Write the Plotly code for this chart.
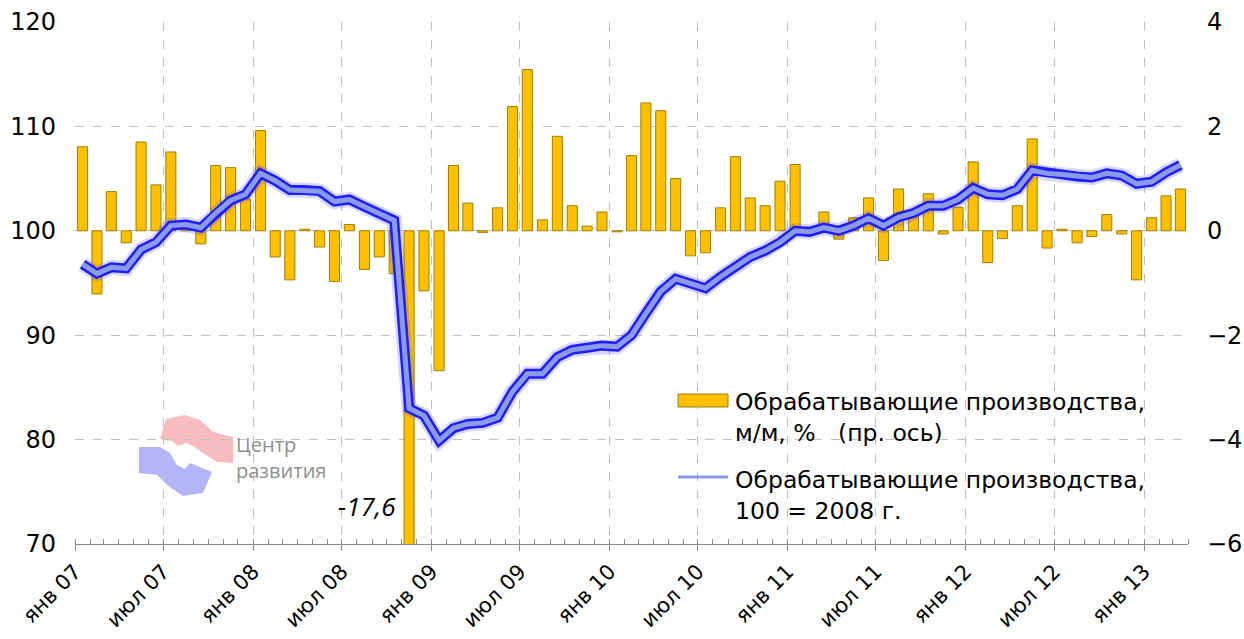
import pandas as pd
import plotly.graph_objects as go

# Monthly observations, January 2007 - March 2013
months = pd.date_range("2007-01-01", periods=75, freq="MS")

# Manufacturing, month-on-month change, % (right axis)
mom_change = [
    1.61, -1.21, 0.75, -0.23, 1.70, 0.88, 1.51, 0.05, -0.25, 1.25, 1.21, 0.61,
    1.92, -0.50, -0.94, 0.03, -0.31, -0.97, 0.12, -0.74, -0.50, -0.82, -17.6, -1.15,
    -2.68, 1.25, 0.53, -0.03, 0.44, 2.38, 3.09, 0.21, 1.81, 0.48, 0.09, 0.36,
    -0.02, 1.44, 2.45, 2.30, 1.00, -0.48, -0.42, 0.44, 1.42, 0.63, 0.48, 0.95,
    1.27, 0.05, 0.36, -0.16, 0.25, 0.63, -0.57, 0.80, 0.33, 0.71, -0.06, 0.45,
    1.32, -0.61, -0.15, 0.48, 1.76, -0.33, 0.03, -0.23, -0.11, 0.31, -0.06, -0.94,
    0.25, 0.67, 0.80,
]

# Manufacturing index, 2008 average = 100 (left axis)
index_2008 = [
    96.8, 95.9, 96.5, 96.4, 98.2, 98.9, 100.5, 100.6, 100.3, 101.7, 102.9, 103.5,
    105.5, 104.8, 103.9, 103.9, 103.8, 102.8, 103.0, 102.3, 101.7, 101.0, 83.0, 82.3,
    79.9, 81.1, 81.5, 81.6, 82.1, 84.6, 86.3, 86.3, 87.9, 88.6, 88.8, 89.0,
    88.9, 90.0, 92.1, 94.2, 95.4, 95.0, 94.5, 95.6, 96.6, 97.5, 98.1, 98.9,
    100.0, 99.9, 100.3, 100.0, 100.5, 101.2, 100.5, 101.3, 101.7, 102.4, 102.4, 103.0,
    104.1, 103.5, 103.4, 104.0, 105.8, 105.5, 105.4, 105.2, 105.1, 105.5, 105.3, 104.5,
    104.7, 105.6, 106.3,
]

# Half-year tick labels
tick_dates = pd.date_range("2007-01-01", "2013-01-01", freq="6MS")
tick_text = ["янв 07", "июл 07", "янв 08", "июл 08", "янв 09", "июл 09", "янв 10",
             "июл 10", "янв 11", "июл 11", "янв 12", "июл 12", "янв 13"]

bar_name = "Обрабатывающие производства,<br>м/м, %   (пр. ось)"
line_name = "Обрабатывающие производства,<br>100 = 2008 г."

FONT = "DejaVu Sans, Arial, sans-serif"
GRID = "#C0C0C0"
AXIS = "#8A8A8A"

fig = go.Figure()

fig.add_trace(go.Bar(
    x=months, y=mom_change, name=bar_name,
    xperiod="M1", xperiodalignment="middle",
    marker=dict(color="#FFC000", line=dict(color="#A07F00", width=1)),
    yaxis="y", showlegend=False,
))

# index line: soft glow, dark blue rim, light blue core
for width, color in [(15, "rgba(70,70,255,0.22)"), (10, "#1E1EFF"), (5, "#8C9BE8")]:
    fig.add_trace(go.Scatter(
        x=months, y=index_2008, name=line_name, mode="lines",
        xperiod="M1", xperiodalignment="middle",
        line=dict(color=color, width=width, shape="linear"),
        yaxis="y2", showlegend=False, hoverinfo="skip" if width != 5 else None,
    ))

# Pixel helpers for decorations placed in paper space
L, R, T, B = 75, 1188, 22, 544
def px(xp):
    return (xp - L) / (R - L)
def py(yp):
    return (B - yp) / (B - T)
def path(points):
    return "M " + " L ".join(f"{px(a):.4f},{py(b):.4f}" for a, b in points) + " Z"

shapes = []
# custom legend swatches
shapes.append(dict(type="rect", xref="paper", yref="paper",
                   x0=px(678), x1=px(728), y0=py(407), y1=py(394),
                   fillcolor="#FFC000", line=dict(color="#A07F00", width=1)))
shapes.append(dict(type="line", xref="paper", yref="paper",
                   x0=px(678), x1=px(728), y0=py(477), y1=py(477),
                   line=dict(color="#8C9BE8", width=3)))

# logo marks
pink = [(160, 439), (166, 419), (185, 415), (200, 420), (213, 432), (233, 437),
        (233, 463), (217, 462), (203, 453), (193, 446), (186, 443), (178, 446), (172, 441)]
blue = [(139, 447), (160, 447), (170, 453), (177, 465), (185, 469), (190, 463),
        (212, 472), (203, 493), (183, 496), (167, 485), (157, 475), (139, 473)]
shapes.append(dict(type="path", xref="paper", yref="paper", path=path(pink),
                   fillcolor="rgba(245,150,155,0.65)", line=dict(width=0), layer="below"))
shapes.append(dict(type="path", xref="paper", yref="paper", path=path(blue),
                   fillcolor="rgba(140,140,245,0.65)", line=dict(width=0), layer="below"))

annotations = [
    dict(xref="paper", yref="paper", x=px(733), y=py(417), xanchor="left", yanchor="middle",
         text=bar_name, showarrow=False, align="left",
         font=dict(family=FONT, size=23.5, color="#000")),
    dict(xref="paper", yref="paper", x=px(733), y=py(495), xanchor="left", yanchor="middle",
         text=line_name, showarrow=False, align="left",
         font=dict(family=FONT, size=23.5, color="#000")),
    dict(xref="paper", yref="paper", x=px(234), y=py(458), xanchor="left", yanchor="middle",
         text="Центр<br>развития", showarrow=False, align="left",
         font=dict(family="Open Sans, sans-serif", size=20, color="#8F8F8F")),
]

# value label for the November 2008 drop
drop_i = mom_change.index(min(mom_change))
annotations.append(dict(
    x=months[drop_i], y=-5.27, xref="x", yref="y", xanchor="right", yanchor="middle",
    xshift=-4, showarrow=False,
    text="<i>" + f"{mom_change[drop_i]:.1f}".replace(".", ",") + "</i>",
    font=dict(family="Open Sans, sans-serif", size=26, color="#000"),
))

fig.update_layout(
    width=1244, height=639,
    margin=dict(l=L, r=1244 - R, t=T, b=639 - B),
    paper_bgcolor="white", plot_bgcolor="white",
    bargap=0.3,
    font=dict(family=FONT, color="#000"),
    shapes=shapes, annotations=annotations,
    xaxis=dict(
        type="date", range=["2007-01-01", "2013-04-01"], automargin=False,
        tickmode="array", tickvals=tick_dates, ticktext=tick_text,
        tickangle=-45, tickfont=dict(size=21, family=FONT),
        showgrid=True, gridcolor=GRID, griddash="dash", gridwidth=1,
        ticks="outside", ticklen=6, tickcolor=AXIS,
        showline=True, linecolor=AXIS, linewidth=1,
        minor=dict(dtick="M1", tick0="2007-01-01", ticks="inside", ticklen=5,
                   tickcolor=AXIS, showgrid=False),
        zeroline=False,
    ),
    yaxis=dict(
        side="right", range=[-6, 4], dtick=2, tick0=0, automargin=False,
        showgrid=True, gridcolor=GRID, griddash="dash", gridwidth=1,
        zeroline=False, showline=False, ticks="",
        tickfont=dict(size=24, family=FONT), ticklabelstandoff=18,
    ),
    yaxis2=dict(
        overlaying="y", side="left", range=[70, 120], dtick=10, tick0=70, automargin=False,
        showgrid=False, zeroline=False, showline=False, ticks="",
        tickfont=dict(size=24, family=FONT), ticklabelstandoff=18,
    ),
)

fig.write_html("out.html")
